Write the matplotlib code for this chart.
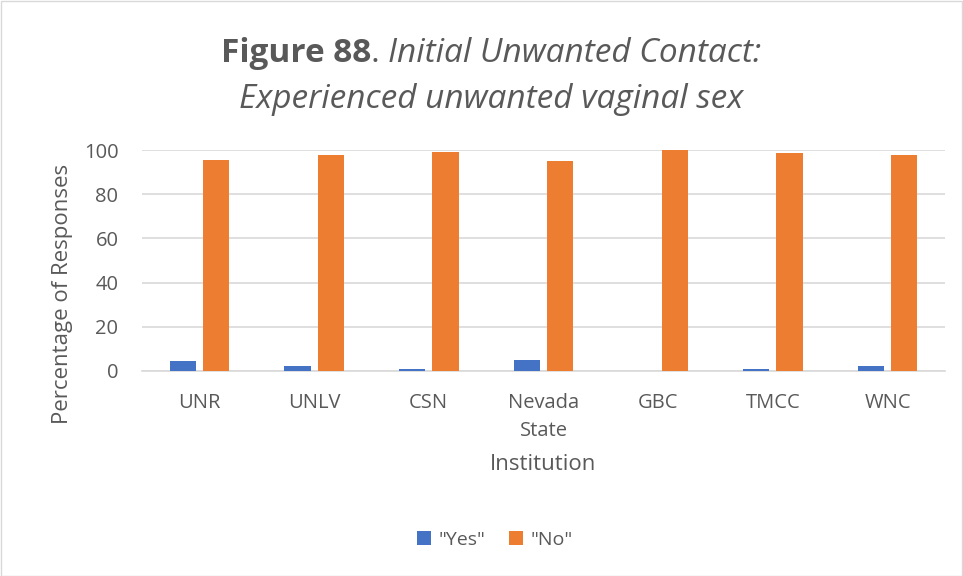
import numpy as np, matplotlib; matplotlib.use("Agg")
import matplotlib.pyplot as plt
from matplotlib.patches import Rectangle

plt.rcParams.update({"font.family": ["Open Sans", "DejaVu Sans"], "text.color": "#595959"})

institutions = ["UNR", "UNLV", "CSN", "Nevada\nState", "GBC", "TMCC", "WNC"]
yes_pct = [4.4, 2.3, 1.0, 5.1, 0.0, 1.0, 2.1]
no_pct = [95.5, 97.7, 98.9, 95.0, 100.0, 98.6, 97.7]
series_names = ['"Yes"', '"No"']
yticks = [0, 20, 40, 60, 80, 100]

fig = plt.figure(figsize=(9.63, 5.76), dpi=100)
ax = fig.add_axes([142/963, 1-371/576, 803/963, 221/576])

x = np.arange(len(institutions))
w = 0.23
ax.bar(x - 0.29/2, yes_pct, w, color="#4472c4", label=series_names[0], zorder=3)
ax.bar(x + 0.29/2, no_pct, w, color="#ed7d31", label=series_names[1], zorder=3)

ax.set_xlim(-0.5, len(institutions) - 0.5)
ax.set_ylim(0, 100)
ax.set_yticks(yticks)
ax.yaxis.grid(True, color="#d9d9d9", lw=1.2, zorder=0)
ax.set_axisbelow(True)
for s in ["top", "right", "left"]:
    ax.spines[s].set_visible(False)
ax.spines["bottom"].set_color("#d9d9d9")
ax.spines["bottom"].set_linewidth(1.2)
ax.tick_params(length=0, labelsize=14.5, colors="#595959")
ax.tick_params(axis="y", pad=17)
ax.tick_params(axis="x", pad=16)
ax.set_xticks(x)
ax.set_xticklabels(institutions, linespacing=1.55)
ax.set_ylabel("Percentage of Responses", fontsize=16, color="#595959", labelpad=8)
ax.yaxis.label.set_y(0.35)  # centred on plot area incl. category labels
ax.set_xlabel("Institution", fontsize=16, color="#595959", labelpad=9)

ax.legend(loc="center", bbox_to_anchor=(495/963, 1-540/576), bbox_transform=fig.transFigure,
          ncol=2, frameon=False, fontsize=14, handlelength=0.7, handleheight=0.7,
          columnspacing=1.2, handletextpad=0.4, labelcolor="#595959")

# two-line title with mixed weights
fig.canvas.draw()
r = fig.canvas.get_renderer()
parts = [("Figure 88", "bold", "normal"), (". ", "normal", "normal"),
         ("Initial Unwanted Contact:", "normal", "italic")]
y1 = 1 - 54/576
objs = [fig.text(0, y1, p, fontsize=24, fontweight=fw, style=st, va="center", color="#595959")
        for p, fw, st in parts]
widths = [o.get_window_extent(r).width / fig.bbox.width for o in objs]
x0 = 491/963 - sum(widths) / 2
for o, wd in zip(objs, widths):
    o.set_x(x0)
    x0 += wd
fig.text(491/963, 1 - 100/576, "Experienced unwanted vaginal sex", fontsize=24, style="italic",
         ha="center", va="center", color="#595959")

fig.patches.append(Rectangle((0.5/963, 0.5/576), 1 - 1.5/963, 1 - 1.5/576, transform=fig.transFigure,
                             fill=False, edgecolor="#d9d9d9", lw=1))
fig.savefig("out.png", dpi=100)
